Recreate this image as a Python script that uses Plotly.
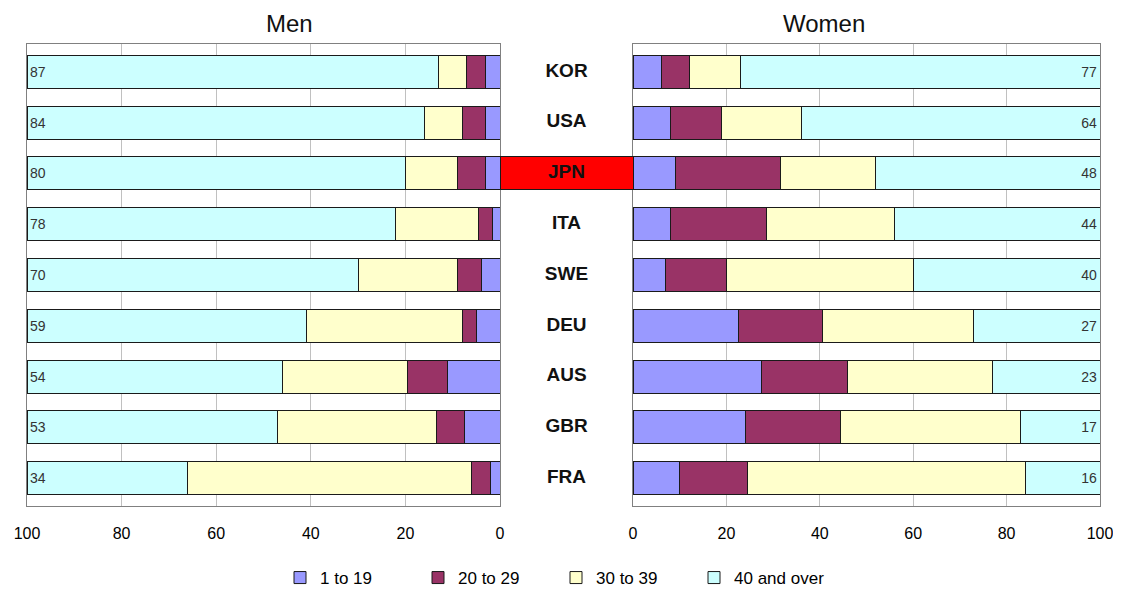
import plotly.graph_objects as go

countries = ["KOR", "USA", "JPN", "ITA", "SWE", "DEU", "AUS", "GBR", "FRA"]
highlight = "JPN"
groups = ["1 to 19", "20 to 29", "30 to 39", "40 and over"]
colors = ["#9999FF", "#993366", "#FFFFCC", "#CCFFFF"]

men_1_19 = [3, 3, 3, 1.5, 4, 5, 11, 7.5, 2]
men_20_29 = [4, 5, 6, 3, 5, 3, 8.5, 6, 4]
men_30_39 = [6, 8, 11, 17.5, 21, 33, 26.5, 33.5, 60]
men_40_over = [87, 84, 80, 78, 70, 59, 54, 53, 34]

women_1_19 = [6, 8, 9, 8, 7, 22.5, 27.5, 24, 10]
women_20_29 = [6, 11, 22.5, 20.5, 13, 18, 18.5, 20.5, 14.5]
women_30_39 = [11, 17, 20.5, 27.5, 40, 32.5, 31, 38.5, 59.5]
women_40_over = [77, 64, 48, 44, 40, 27, 23, 17, 16]

ticks = [0, 20, 40, 60, 80, 100]

men = [men_1_19, men_20_29, men_30_39, men_40_over]
women = [women_1_19, women_20_29, women_30_39, women_40_over]

# page body has an 8px margin, so the figure is drawn 8px right/down
OFF = 8
W, H = 1121 - OFF, 593 - OFF
ml, mr, mt = 27 - OFF, 21, 44 - OFF
plot_h = 462
mb = H - mt - plot_h
pw = W - ml - mr
men_right = (500 - OFF - ml) / pw
women_left = (633 - OFF - ml) / pw

FONT = "Liberation Sans, Arial, sans-serif"
fig = go.Figure()

for i, (g, c) in enumerate(zip(groups, colors)):
    is_last = i == len(groups) - 1
    for side, vals, xa, ya, show in (("men", men, "x", "y", False),
                                      ("women", women, "x2", "y2", True)):
        fig.add_trace(go.Bar(
            x=vals[i], y=countries, orientation="h", xaxis=xa, yaxis=ya,
            name=g, legendgroup=g, showlegend=show,
            marker=dict(color=c, line=dict(color="#1a1a1a", width=1)),
            text=[f"{v:g}" for v in vals[i]] if is_last else None,
            textposition="inside" if is_last else "none",
            insidetextanchor="end", textangle=0,
            textfont=dict(family=FONT, size=14, color="#333333"),
            hoverinfo="x+y+name",
        ))

# highlight box for JPN in the middle column
fig.add_trace(go.Bar(
    x=[1], y=[highlight], orientation="h", xaxis="x3", yaxis="y3",
    showlegend=False, marker=dict(color="#FF0000", line=dict(color="#1a1a1a", width=1)),
    hoverinfo="skip",
))
# country labels
fig.add_trace(go.Scatter(
    x=[0.5] * len(countries), y=countries, xaxis="x3", yaxis="y3",
    mode="text", text=countries, showlegend=False,
    textfont=dict(family=FONT, size=19, color="#111111"),
    texttemplate="<b>%{text}</b>", hoverinfo="skip",
))

yrange = [8.55, -0.55]
axis_common = dict(showline=True, mirror=True, linecolor="#808080", linewidth=1,
                   showgrid=True, gridcolor="#C0C0C0", gridwidth=1, zeroline=False,
                   tickvals=ticks, ticks="", ticklabelstandoff=13, automargin=False,
                   tickfont=dict(family=FONT, size=16, color="#000000"), fixedrange=True)
yaxis_common = dict(type="category", categoryorder="array", categoryarray=countries,
                    range=yrange, showticklabels=False, showgrid=False, zeroline=False,
                    fixedrange=True, automargin=False)

fig.update_layout(
    width=W, height=H,
    margin=dict(l=ml, r=mr, t=mt, b=mb, autoexpand=False),
    paper_bgcolor="white", plot_bgcolor="white",
    barmode="stack", bargap=0.35,
    font=dict(family=FONT, color="#000000"),
    xaxis=dict(domain=[0, men_right], range=[100, 0], anchor="y", **axis_common),
    xaxis2=dict(domain=[women_left, 1], range=[0, 100], anchor="y2", **axis_common),
    xaxis3=dict(domain=[men_right, women_left], range=[0, 1], anchor="y3",
                visible=False, fixedrange=True),
    yaxis=dict(anchor="x", showline=True, mirror=True, linecolor="#808080", **yaxis_common),
    yaxis2=dict(anchor="x2", showline=True, mirror=True, linecolor="#808080", **yaxis_common),
    yaxis3=dict(anchor="x3", visible=False, **yaxis_common),
    legend=dict(orientation="h", x=(280 - OFF - ml) / pw, xanchor="left",
                y=(mt + plot_h - (578 - OFF)) / plot_h, yanchor="middle",
                traceorder="normal", entrywidth=93, entrywidthmode="pixels",
                font=dict(family=FONT, size=17, color="#000000"), itemclick=False),
    annotations=[
        dict(text="Men", xref="paper", yref="paper", x=men_right / 2,
             y=1 + (mt - (24 - OFF)) / plot_h,
             yanchor="middle", showarrow=False, font=dict(family=FONT, size=24, color="#111111")),
        dict(text="Women", xref="paper", yref="paper", x=(women_left + 1) / 2,
             y=1 + (mt - (24 - OFF)) / plot_h,
             yanchor="middle", showarrow=False, font=dict(family=FONT, size=24, color="#111111")),
    ],
    showlegend=True,
)

fig.write_html("out.html")
